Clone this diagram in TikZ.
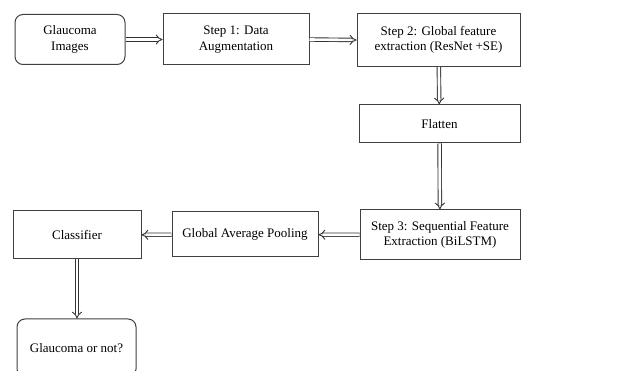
\documentclass[tikz,border=0pt]{standalone}
\usepackage{fontspec}
\setmainfont{Liberation Serif}
\usepackage{tikz}
\usetikzlibrary{arrows.meta}

\tikzset{
    box/.style={draw=black!75, line width=1pt, align=center, inner sep=2pt,
        font=\fontsize{13}{15.6}\selectfont},
    endbox/.style={box, rounded corners=8pt},
    flow/.style={double=white, double distance=2.6pt, line width=0.9pt, draw=black!80,
        -{Implies}}
}

\begin{document}
\begin{tikzpicture}[x=1pt, y=-1pt]
    \useasboundingbox[fill=white] (0, 0) rectangle (640, 371);
    % first row
    \node [endbox, minimum width=110pt, minimum height=50pt] (0) at (70, 39.5) {Glaucoma\\Images};
    \node [box, minimum width=146pt, minimum height=51pt] (1) at (236, 39.5) {Step 1: Data\\Augmentation};
    \node [box, minimum width=163pt, minimum height=53pt] (2) at (438.5, 40) {Step 2: Global feature\\extraction (ResNet +SE)};
    \draw [flow] (0.east) to (1.west);
    \draw [flow] (1.east) to (2.west);
    % right column
    \node [box, minimum width=161pt, minimum height=38pt] (3) at (439.5, 124) {Flatten};
    \node [box, minimum width=160pt, minimum height=50pt] (4) at (440, 235) {Step 3: Sequential Feature\\Extraction (BiLSTM)};
    \draw [flow] (2) to (3);
    \draw [flow] (3) to (4);
    % bottom row, right to left
    \node [box, minimum width=146pt, minimum height=45pt] (5) at (245, 234.5) {Global Average Pooling};
    \node [box, minimum width=128pt, minimum height=48pt] (6) at (77, 235) {Classifier};
    \draw [flow] (4) to (5);
    \draw [flow] (5) to (6);
    % output
    \node [endbox, minimum width=119pt, minimum height=58pt] (7) at (76.5, 348) {Glaucoma or not?};
    \draw [flow] (6) to (6 |- 7.north);
\end{tikzpicture}
\end{document}
